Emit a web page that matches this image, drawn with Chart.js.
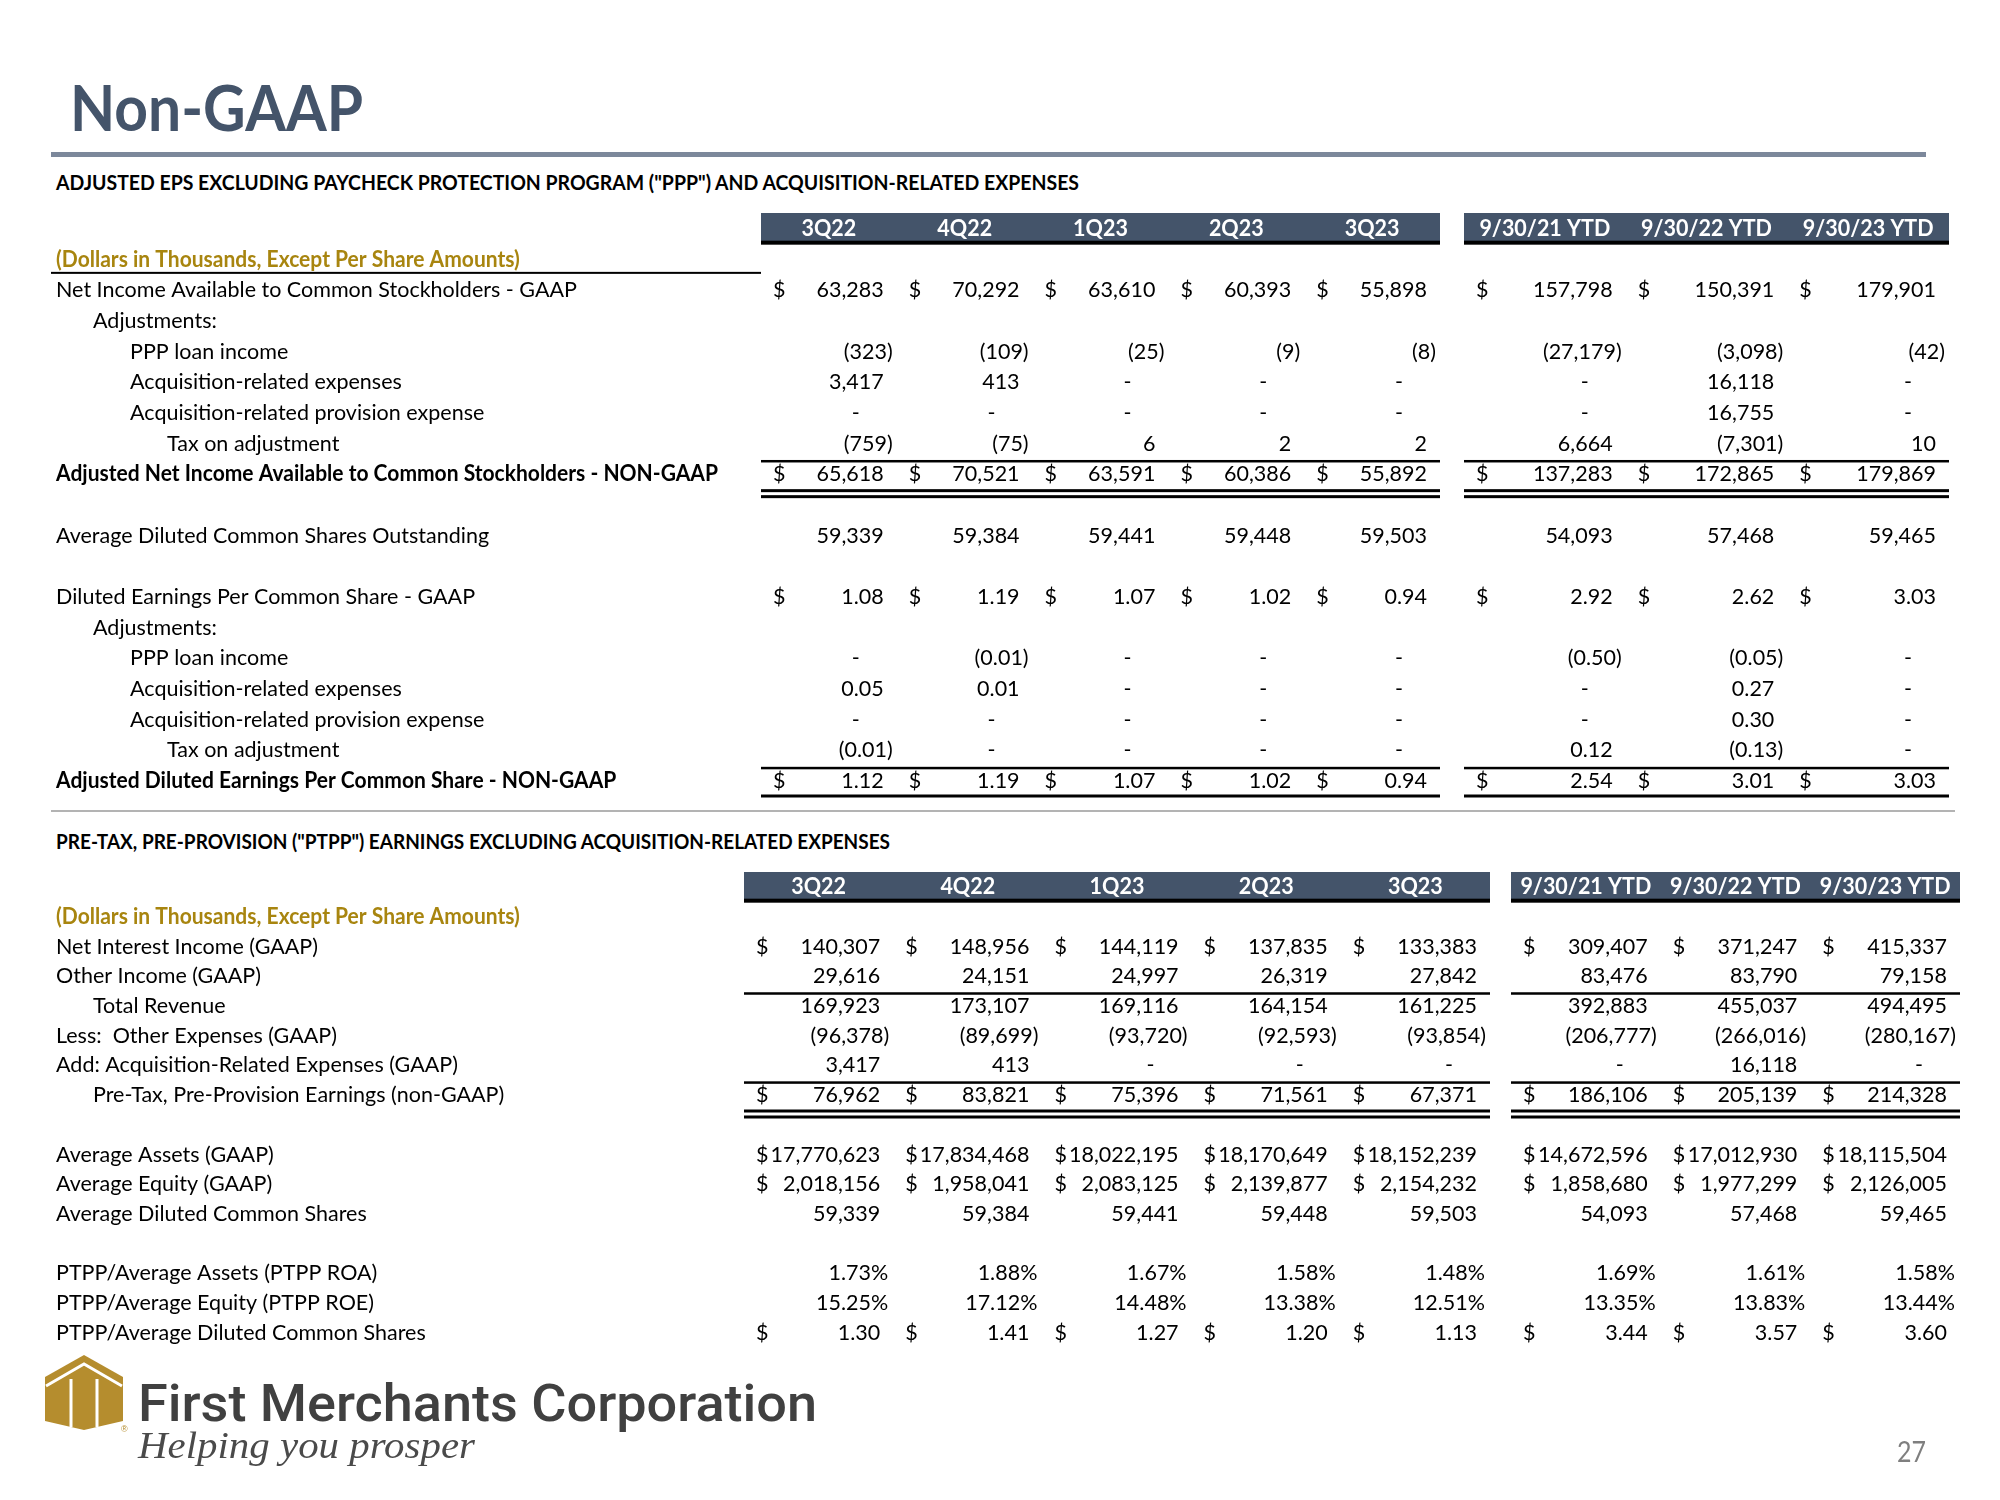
<!DOCTYPE html>
<html>
<head>
<meta charset="utf-8">
<title>Non-GAAP</title>
<script src="https://cdn.jsdelivr.net/npm/chart.js@4.4.0/dist/chart.umd.min.js"></script>
<style>
  html, body { margin: 0; padding: 0; background: #fff; }
  body { position: relative; width: 2000px; height: 1500px; overflow: hidden; font-family: Lato, sans-serif; }
  canvas { position: absolute; left: 0; top: 0; }
  .txt { position: absolute; white-space: nowrap; transform-origin: 0 0; line-height: 1; }
  .rule { position: absolute; }
</style>
</head>
<body>
<div id="title" class="txt" style="font-size:64px;font-weight:700;color:#44546a">Non-GAAP</div>
<div class="rule" style="left:51px;top:152px;width:1875px;height:5px;background:#7c889b"></div>
<div id="head1" class="txt" style="font-size:20px;font-weight:700;color:#000">ADJUSTED EPS EXCLUDING PAYCHECK PROTECTION PROGRAM ("PPP") AND ACQUISITION-RELATED EXPENSES</div>
<div class="rule" style="left:51px;top:810px;width:1904px;height:2px;background:#b3b3b3"></div>
<div id="head2" class="txt" style="font-size:20px;font-weight:700;color:#000">PRE-TAX, PRE-PROVISION ("PTPP") EARNINGS EXCLUDING ACQUISITION-RELATED EXPENSES</div>

<canvas id="epsQ" width="2000" height="1500"></canvas>
<canvas id="epsY" width="2000" height="1500"></canvas>
<canvas id="ptppQ" width="2000" height="1500"></canvas>
<canvas id="ptppY" width="2000" height="1500"></canvas>

<svg style="position:absolute;left:45px;top:1355px" width="84" height="78" viewBox="0 0 84 78">
  <polygon points="0,22 39,0 78,22 78,66 39,75 0,66" fill="#b58d2e"/>
  <polyline points="1,31 39,9 77,31" fill="none" stroke="#fff" stroke-width="3"/>
  <line x1="26" y1="24" x2="26" y2="72" stroke="#fff" stroke-width="3"/>
  <line x1="52" y1="24" x2="52" y2="72" stroke="#fff" stroke-width="3"/>
  <text x="76" y="77" font-size="9" fill="#b58d2e" font-family="Liberation Sans">&#174;</text>
</svg>
<div id="brand" class="txt" style="font-family:Roboto;font-size:52px;font-weight:500;color:#404040">First Merchants Corporation</div>
<div id="tagline" class="txt" style="font-family:'Liberation Serif';font-style:italic;font-size:38px;color:#4a4a4a">Helping you prosper</div>
<div id="page" class="txt" style="font-size:28px;color:#7f7f7f">27</div>

<script>
// column headings
var quarterLabels = ['3Q22', '4Q22', '1Q23', '2Q23', '3Q23'];
var ytdLabels = ['9/30/21 YTD', '9/30/22 YTD', '9/30/23 YTD'];

// adjusted EPS table: 5 quarters then 3 YTD columns, null = "-"
var netIncomeGaap = [63283, 70292, 63610, 60393, 55898, 157798, 150391, 179901];
var pppLoanIncome = [-323, -109, -25, -9, -8, -27179, -3098, -42];
var acqExpenses = [3417, 413, null, null, null, null, 16118, null];
var acqProvision = [null, null, null, null, null, null, 16755, null];
var taxOnAdjustment = [-759, -75, 6, 2, 2, 6664, -7301, 10];
var adjNetIncome = [65618, 70521, 63591, 60386, 55892, 137283, 172865, 179869];
var avgDilutedShares = [59339, 59384, 59441, 59448, 59503, 54093, 57468, 59465];
var epsGaap = [1.08, 1.19, 1.07, 1.02, 0.94, 2.92, 2.62, 3.03];
var epsPpp = [null, -0.01, null, null, null, -0.50, -0.05, null];
var epsAcqExpenses = [0.05, 0.01, null, null, null, null, 0.27, null];
var epsAcqProvision = [null, null, null, null, null, null, 0.30, null];
var epsTax = [-0.01, null, null, null, null, 0.12, -0.13, null];
var adjEps = [1.12, 1.19, 1.07, 1.02, 0.94, 2.54, 3.01, 3.03];

// PTPP table
var netInterestIncome = [140307, 148956, 144119, 137835, 133383, 309407, 371247, 415337];
var otherIncome = [29616, 24151, 24997, 26319, 27842, 83476, 83790, 79158];
var totalRevenue = [169923, 173107, 169116, 164154, 161225, 392883, 455037, 494495];
var otherExpenses = [-96378, -89699, -93720, -92593, -93854, -206777, -266016, -280167];
var acqRelatedExpenses = [3417, 413, null, null, null, null, 16118, null];
var ptppEarnings = [76962, 83821, 75396, 71561, 67371, 186106, 205139, 214328];
var avgAssets = [17770623, 17834468, 18022195, 18170649, 18152239, 14672596, 17012930, 18115504];
var avgEquity = [2018156, 1958041, 2083125, 2139877, 2154232, 1858680, 1977299, 2126005];
var avgShares = [59339, 59384, 59441, 59448, 59503, 54093, 57468, 59465];
var ptppRoa = [1.73, 1.88, 1.67, 1.58, 1.48, 1.69, 1.61, 1.58];
var ptppRoe = [15.25, 17.12, 14.48, 13.38, 12.51, 13.35, 13.83, 13.44];
var ptppPerShare = [1.30, 1.41, 1.27, 1.20, 1.13, 3.44, 3.57, 3.60];

var DOLLARS_NOTE = '(Dollars in Thousands, Except Per Share Amounts)';

var epsRows = [
  { header: true },
  { label: DOLLARS_NOTE, gold: true, underline: true },
  { label: 'Net Income Available to Common Stockholders - GAAP', values: netIncomeGaap, dollar: true, dec: 0 },
  { label: 'Adjustments:', indent: 1 },
  { label: 'PPP loan income', indent: 2, values: pppLoanIncome, dec: 0 },
  { label: 'Acquisition-related expenses', indent: 2, values: acqExpenses, dec: 0 },
  { label: 'Acquisition-related provision expense', indent: 2, values: acqProvision, dec: 0 },
  { label: 'Tax on adjustment', indent: 3, values: taxOnAdjustment, dec: 0 },
  { label: 'Adjusted Net Income Available to Common Stockholders - NON-GAAP', bold: true, values: adjNetIncome, dollar: true, dec: 0, lineTop: true, lineBottom: 2 },
  { label: '' },
  { label: 'Average Diluted Common Shares Outstanding', values: avgDilutedShares, dec: 0 },
  { label: '' },
  { label: 'Diluted Earnings Per Common Share - GAAP', values: epsGaap, dollar: true, dec: 2 },
  { label: 'Adjustments:', indent: 1 },
  { label: 'PPP loan income', indent: 2, values: epsPpp, dec: 2 },
  { label: 'Acquisition-related expenses', indent: 2, values: epsAcqExpenses, dec: 2 },
  { label: 'Acquisition-related provision expense', indent: 2, values: epsAcqProvision, dec: 2 },
  { label: 'Tax on adjustment', indent: 3, values: epsTax, dec: 2 },
  { label: 'Adjusted Diluted Earnings Per Common Share - NON-GAAP', bold: true, values: adjEps, dollar: true, dec: 2, lineTop: true, lineBottom: 1 }
];

var ptppRows = [
  { header: true },
  { label: DOLLARS_NOTE, gold: true },
  { label: 'Net Interest Income (GAAP)', values: netInterestIncome, dollar: true, dec: 0 },
  { label: 'Other Income (GAAP)', values: otherIncome, dec: 0 },
  { label: 'Total Revenue', indent: 1, values: totalRevenue, dec: 0, lineTop: true },
  { label: 'Less:  Other Expenses (GAAP)', values: otherExpenses, dec: 0 },
  { label: 'Add: Acquisition-Related Expenses (GAAP)', values: acqRelatedExpenses, dec: 0 },
  { label: 'Pre-Tax, Pre-Provision Earnings (non-GAAP)', indent: 1, values: ptppEarnings, dollar: true, dec: 0, lineTop: true, lineBottom: 2 },
  { label: '' },
  { label: 'Average Assets (GAAP)', values: avgAssets, dollar: true, dec: 0 },
  { label: 'Average Equity (GAAP)', values: avgEquity, dollar: true, dec: 0 },
  { label: 'Average Diluted Common Shares', values: avgShares, dec: 0 },
  { label: '' },
  { label: 'PTPP/Average Assets (PTPP ROA)', values: ptppRoa, dec: 2, pct: true },
  { label: 'PTPP/Average Equity (PTPP ROE)', values: ptppRoe, dec: 2, pct: true },
  { label: 'PTPP/Average Diluted Common Shares', values: ptppPerShare, dollar: true, dec: 2 }
];

// styling
var FONT = 'Lato';
var FS = 22;
var INK = '#000';
var GOLD = '#a8850f';
var BAND = '#44546a';
var LABEL_X = 56;
var INDENT = 37;
var BASE_OFF = 7.5;

// Calibri is narrower than Lato, squeeze text horizontally to match
var mctx = document.createElement('canvas').getContext('2d');
mctx.font = FS + 'px ' + FONT;
var SX = 521 / mctx.measureText('Net Income Available to Common Stockholders - GAAP').width;
mctx.font = 'bold ' + FS + 'px ' + FONT;
var SXB = 662 / mctx.measureText('Adjusted Net Income Available to Common Stockholders - NON-GAAP').width;

function text(ctx, str, x, y, align, weight, color, sx) {
  ctx.save();
  ctx.font = (weight ? weight + ' ' : '') + FS + 'px ' + FONT;
  ctx.fillStyle = color;
  ctx.textAlign = align;
  ctx.textBaseline = 'alphabetic';
  ctx.translate(x, y);
  ctx.scale(sx || SX, 1);
  ctx.fillText(str, 0, 0);
  ctx.restore();
}

function drawCell(ctx, row, v, x, y, colW) {
  var left = x - colW / 2, right = x + colW / 2, base = y + BASE_OFF;
  if (row.dollar) text(ctx, '$', left + 12, base, 'left', '', INK);
  if (v === null) {
    text(ctx, '-', right - 37, base, 'right', '', INK);
    return;
  }
  var s = Math.abs(v).toLocaleString('en-US', { minimumFractionDigits: row.dec, maximumFractionDigits: row.dec });
  if (v < 0) text(ctx, '(' + s + ')', right - 4, base, 'right', '', INK);
  else if (row.pct) text(ctx, s + '%', right - 5, base, 'right', '', INK);
  else text(ctx, s, right - 13, base, 'right', '', INK);
}

function tablePlugin(rows, cols, withLabels) {
  return {
    id: 'tableCells',
    afterDatasetsDraw: function (chart) {
      var ctx = chart.ctx, a = chart.chartArea;
      var xs = chart.scales.x, ys = chart.scales.y;
      var w = a.right - a.left;
      var colW = w / cols.length;
      var rowH = (a.bottom - a.top) / rows.length;

      // header band with column names
      var hy = ys.getPixelForValue(0);
      ctx.fillStyle = BAND;
      ctx.fillRect(a.left, hy - rowH / 2, w, rowH);
      ctx.fillStyle = '#000';
      ctx.fillRect(a.left, hy + rowH / 2 - 3, w, 4);
      cols.forEach(function (c, ci) {
        text(ctx, c, xs.getPixelForValue(ci), hy + BASE_OFF, 'center', 'bold', '#fff');
      });

      rows.forEach(function (r, ri) {
        if (r.header) return;
        var cy = ys.getPixelForValue(ri);
        var top = cy - rowH / 2, bottom = cy + rowH / 2;
        if (withLabels && r.label) {
          var isBold = r.bold || r.gold;
          text(ctx, r.label, LABEL_X + (r.indent || 0) * INDENT, cy + BASE_OFF,
            'left', isBold ? 'bold' : '', r.gold ? GOLD : INK, isBold ? SXB : SX);
        }
        ctx.fillStyle = '#000';
        if (withLabels && r.underline) ctx.fillRect(51, bottom - 2.5, a.left - 51, 2);
        if (r.lineTop) ctx.fillRect(a.left, top + 1.5, w, 2.5);
        if (r.lineBottom === 1) ctx.fillRect(a.left, bottom - 1.5, w, 3);
        if (r.lineBottom === 2) {
          ctx.fillRect(a.left, bottom, w, 3);
          ctx.fillRect(a.left, bottom + 6, w, 3);
        }
      });

      // value cells, positioned by the dataset points
      chart.data.datasets.forEach(function (ds, di) {
        var row = rows[di];
        chart.getDatasetMeta(di).data.forEach(function (pt, j) {
          drawCell(ctx, row, ds.data[j].v, pt.x, pt.y, colW);
        });
      });
    }
  };
}

function buildTable(id, rows, cols, offset, pad, withLabels) {
  var datasets = rows.map(function (r, ri) {
    return {
      label: r.label || '',
      data: r.values ? cols.map(function (c, ci) { return { x: ci, y: ri, v: r.values[offset + ci] }; }) : [],
      pointRadius: 0,
      pointHoverRadius: 0,
      showLine: false
    };
  });
  return new Chart(document.getElementById(id), {
    type: 'scatter',
    data: { datasets: datasets },
    options: {
      responsive: false,
      animation: false,
      events: [],
      layout: { padding: pad },
      scales: {
        x: { type: 'linear', min: -0.5, max: cols.length - 0.5, display: false },
        y: { type: 'linear', min: -0.5, max: rows.length - 0.5, reverse: true, display: false }
      },
      plugins: { legend: { display: false }, tooltip: { enabled: false } }
    },
    plugins: [tablePlugin(rows, cols, withLabels)]
  });
}

buildTable('epsQ', epsRows, quarterLabels, 0, { left: 761, right: 560, top: 213, bottom: 704 }, true);
buildTable('epsY', epsRows, ytdLabels, 5, { left: 1464, right: 51, top: 213, bottom: 704 }, false);
buildTable('ptppQ', ptppRows, quarterLabels, 0, { left: 744, right: 510, top: 872, bottom: 153 }, true);
buildTable('ptppY', ptppRows, ytdLabels, 5, { left: 1511, right: 40, top: 872, bottom: 153 }, false);

// place html text by baseline and squeeze to the reference width
function place(id, x, baseline, width) {
  var el = document.getElementById(id);
  el.style.left = x + 'px';
  el.style.top = '0px';
  var m = document.createElement('span');
  m.style.cssText = 'display:inline-block;width:0;height:0';
  el.appendChild(m);
  var b = m.getBoundingClientRect().bottom;
  el.style.top = (baseline - b) + 'px';
  var wNow = el.getBoundingClientRect().width;
  el.style.transform = 'scaleX(' + (width / wNow) + ')';
}
place('title', 70, 131, 293);
place('head1', 56, 190, 1023);
place('head2', 56, 849, 834);
place('brand', 138, 1421, 679);
place('tagline', 138, 1458, 337);
place('page', 1897, 1462, 29);
</script>
</body>
</html>
